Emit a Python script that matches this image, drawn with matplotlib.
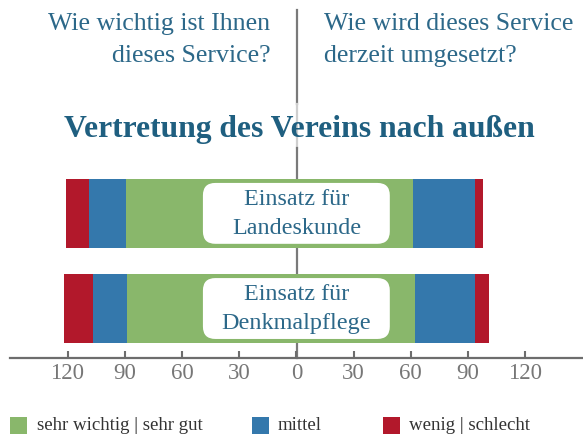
import matplotlib
matplotlib.use("Agg")
import matplotlib.pyplot as plt
from matplotlib.patches import FancyBboxPatch, Rectangle
from matplotlib.lines import Line2D

plt.rcParams['font.family'] = ['Liberation Serif', 'DejaVu Serif']

# ---- data ----
categories = ["Einsatz für\nLandeskunde", "Einsatz für\nDenkmalpflege"]
importance_high = [89.3, 88.8]   # sehr wichtig
importance_mid = [19.4, 17.8]    # mittel
importance_low = [12.1, 15.2]    # wenig
rating_good = [61.2, 62.2]       # sehr gut
rating_mid = [32.5, 31.5]        # mittel
rating_low = [4.2, 7.2]          # schlecht
tick_values = [-120, -90, -60, -30, 0, 30, 60, 90, 120]
legend_labels = ["sehr wichtig | sehr gut", "mittel", "wenig | schlecht"]
title = "Vertretung des Vereins nach außen"
left_question = "Wie wichtig ist Ihnen\ndieses Service?"
right_question = "Wie wird dieses Service\nderzeit umgesetzt?"

GREEN = "#89b76b"
BLUE = "#3478ac"
RED = "#b2182b"
TEXT_BLUE = "#2c6889"
TITLE_BLUE = "#1f5f80"
AXIS_GRAY = "#6d6d6d"

W, H = 583, 437
fig = plt.figure(figsize=(W / 100, H / 100), dpi=100)

def fx(x):
    return x / W

def fy(y):
    return 1 - y / H

# axes: bottom at axis line y=357.8 px, top at 160 px
ax_bottom = 357.8
ax_top = 160
ax = fig.add_axes([0, fy(ax_bottom), 1, (ax_bottom - ax_top) / H])
ax.patch.set_visible(False)
ax.set_xlim(-155.4, 150.3)
ax.set_ylim(-0.518, 1.561)

n = len(categories)
ypos = [n - 1 - i for i in range(n)]
bh = 0.72

# left side (negative)
ax.barh(ypos, [-v for v in importance_high], height=bh, color=GREEN, zorder=2)
left_mid_start = [-v for v in importance_high]
ax.barh(ypos, [-v for v in importance_mid], left=left_mid_start, height=bh, color=BLUE, zorder=2)
left_low_start = [-(a + b) for a, b in zip(importance_high, importance_mid)]
ax.barh(ypos, [-v for v in importance_low], left=left_low_start, height=bh, color=RED, zorder=2)

# right side
ax.barh(ypos, rating_good, height=bh, color=GREEN, zorder=2)
ax.barh(ypos, rating_mid, left=rating_good, height=bh, color=BLUE, zorder=2)
right_low_start = [a + b for a, b in zip(rating_good, rating_mid)]
ax.barh(ypos, rating_low, left=right_low_start, height=bh, color=RED, zorder=2)

# label boxes
px_per_x = W / (150.3 + 155.4)
px_per_y = (ax_bottom - ax_top) / (1.561 + 0.518)
aspect = px_per_x / px_per_y
for y, lab in zip(ypos, categories):
    box = FancyBboxPatch((-49, y - 0.32), 98, 0.64,
                         boxstyle="round,pad=0,rounding_size=6.5",
                         mutation_aspect=aspect, fc="white", ec="none", zorder=3)
    ax.add_patch(box)
    ax.text(0, y - 0.01, lab, ha="center", va="center", fontsize=17.4,
            color=TEXT_BLUE, linespacing=1.5, zorder=4)

# axis styling
for s in ["top", "right", "left"]:
    ax.spines[s].set_visible(False)
ax.spines["bottom"].set_color(AXIS_GRAY)
ax.spines["bottom"].set_linewidth(1.6)
ax.spines["bottom"].set_bounds(-150, 150.3)
ax.set_yticks([])
ax.set_xticks(tick_values)
ax.set_xticklabels([str(abs(v)) for v in tick_values])
ax.tick_params(axis="x", direction="in", length=5, width=1.5, color=AXIS_GRAY,
               labelsize=16.5, labelcolor="#777777", pad=4)

# center vertical line (figure coords)
cx = fx(296.5)
fig.add_artist(Line2D([cx, cx], [fy(10), fy(104)], color="#7a7a7a", lw=1.6, zorder=-1))
fig.add_artist(Line2D([cx, cx], [fy(104), fy(148)], color="#cfcfcf", lw=1.6, zorder=-1))
fig.add_artist(Line2D([cx, cx], [fy(148), fy(ax_bottom)], color="#7a7a7a", lw=1.6, zorder=-1))

# questions
fig.text(fx(270), fy(40), left_question, ha="right", va="center", fontsize=18.6,
         color=TEXT_BLUE, linespacing=1.58)
fig.text(fx(324), fy(40), right_question, ha="left", va="center", fontsize=18.6,
         color=TEXT_BLUE, linespacing=1.58)

# title
fig.text(fx(299), fy(129), title, ha="center", va="center", fontsize=22.8,
         fontweight="bold", color=TITLE_BLUE)

# legend
legend_colors = [GREEN, BLUE, RED]
sq_x = [10, 252, 383]
txt_x = [37, 278, 409]
for c, sx, tx, lab in zip(legend_colors, sq_x, txt_x, legend_labels):
    fig.add_artist(Rectangle((fx(sx), fy(434)), 17 / W, 17 / H, transform=fig.transFigure,
                             fc=c, ec="none"))
    fig.text(fx(tx), fy(425), lab, ha="left", va="center", fontsize=13.6, color="#333333")

fig.savefig("out.png", dpi=100)
